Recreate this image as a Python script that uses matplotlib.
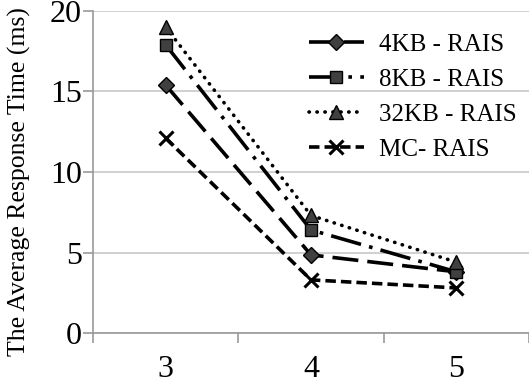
import matplotlib
matplotlib.use('agg')
import matplotlib.pyplot as plt

# data
categories = ['3', '4', '5']
series_names = ['4KB - RAIS', '8KB - RAIS', '32KB - RAIS', 'MC- RAIS']
kb4 = [15.4, 4.85, 3.8]
kb8 = [17.9, 6.4, 3.8]
kb32 = [19.0, 7.3, 4.4]
mc = [12.1, 3.3, 2.8]
y_ticks = [0, 5, 10, 15, 20]

plt.rcParams['font.family'] = ['Liberation Serif', 'DejaVu Serif']

fig = plt.figure(figsize=(5.29, 3.84), dpi=100)
ax = fig.add_axes([93 / 529, 1 - 333 / 384, 436 / 529, 322 / 384])

xs = list(range(len(categories)))
styles = [
    dict(marker='D', ms=8, dashes=(7.2, 2.5)),
    dict(marker='s', ms=9, dashes=(8.6, 2.3, 1, 2.3)),
    dict(marker='^', ms=10, dashes=(0.1, 2.1)),
    dict(marker='x', ms=10, dashes=(2.9, 1.4)),
]
for vals, name, st in zip([kb4, kb8, kb32, mc], series_names, styles):
    is_x = st['marker'] == 'x'
    ln, = ax.plot(xs, vals, color='black', lw=2.6, marker=st['marker'], ms=st['ms'],
                  mfc='#404040', mec='black', mew=2.2 if is_x else 1.0,
                  dashes=st['dashes'], label=name)
    if st['marker'] == '^':
        ln.set_dash_capstyle('round')

ax.set_xlim(-0.5, 2.5)
ax.set_ylim(0, 20)
ax.set_yticks(y_ticks)
ax.set_xticks(xs)
ax.set_xticklabels(categories)
ax.set_xticks([-0.5, 0.5, 1.5, 2.5], minor=True)
ax.tick_params(axis='x', which='major', length=0, pad=16, labelsize=23)
ax.tick_params(axis='x', which='minor', length=7, width=1.2, color='#999999')
ax.tick_params(axis='y', length=7, width=1.2, color='#999999', labelsize=23, pad=1)
ax.yaxis.grid(True, color='#c8c8c8', lw=1.2)
ax.set_axisbelow(True)
for s in ['top', 'right']:
    ax.spines[s].set_visible(False)
for s in ['left', 'bottom']:
    ax.spines[s].set_color('#999999')
    ax.spines[s].set_linewidth(1.2)

ax.set_ylabel('The Average Response Time (ms)', fontsize=18.5)
ax.yaxis.set_label_coords(-62 / 436, (333 - 182) / 322)
ax.legend(loc='upper right', frameon=False, fontsize=18, handlelength=2.2,
          handletextpad=0.6, labelspacing=0.5, borderaxespad=0.1,
          bbox_to_anchor=(1.0, 0.97))

fig.savefig('out.png', dpi=100)
